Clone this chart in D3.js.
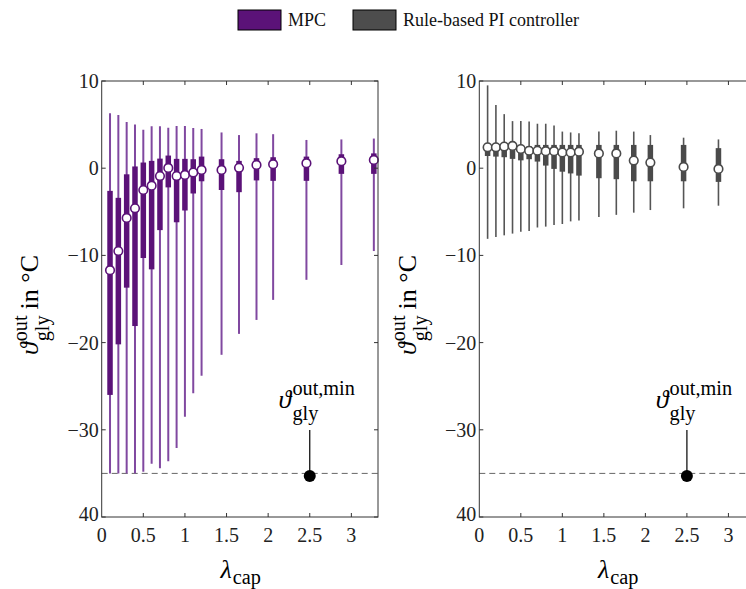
<!DOCTYPE html>
<meta charset="utf-8">
<style>
body { margin: 0; background: #fff; }
svg { font-family: "Liberation Serif", "DejaVu Serif", serif; }
.frame { fill: none; stroke: #333; stroke-width: 1px; }
.tick { stroke: #333; stroke-width: 1px; }
.ticklabel { font-size: 20px; fill: #222; }
.minline { stroke: #666; stroke-width: 1px; stroke-dasharray: 6,4; }
</style>
<body>
<script src="https://d3js.org/d3.v7.min.js"></script>
<script>
var width = 746, height = 589;

// lambda_cap values of the box plots
let lam = [0.1, 0.2, 0.3, 0.4, 0.5, 0.6, 0.7, 0.8, 0.9, 1.0, 1.1, 1.2, 1.44, 1.65, 1.86, 2.06, 2.46, 2.88, 3.27]

// MPC (left)
let mpcHi  = [6.3, 6.1, 5.3, 5.0, 4.4, 4.8, 4.8, 4.65, 4.85, 4.85, 4.6, 4.5, 4.1, 3.8, 4.0, 3.9, 3.24, 3.3, 3.4]
let mpcQ3  = [-2.6, -3.4, -0.7, 0.2, 0.65, 0.84, 1.1, 1.45, 1.07, 1.07, 1.03, 1.33, 1.03, 0.84, 1.15, 1.26, 1.33, 1.6, 1.7]
let mpcMed = [-11.7, -9.5, -5.7, -4.6, -2.5, -2.0, -0.9, 0.03, -0.9, -0.77, -0.5, -0.2, -0.2, 0.04, 0.38, 0.46, 0.57, 0.8, 0.95]
let mpcQ1  = [-26.0, -20.2, -13.7, -18.1, -10.3, -11.6, -7.1, -2.2, -6.2, -4.85, -2.9, -1.5, -2.5, -2.75, -1.4, -1.45, -1.45, -0.65, -0.65]
let mpcLo  = [-35, -35, -35, -35, -34.8, -33.9, -34.4, -33.6, -32.1, -28.5, -25.8, -23.8, -21.4, -19.0, -17.4, -15.1, -12.8, -11.1, -9.5]

// rule-based PI controller (right)
let piHi  = [9.5, 7.25, 6.2, 5.4, 5.4, 5.35, 5.1, 5.1, 4.9, 4.2, 4.1, 4.0, 4.2, 4.3, 4.2, 3.8, 3.5, 3.3]
let piQ3  = [2.7, 2.7, 2.75, 2.8, 2.6, 2.5, 2.67, 2.67, 2.67, 2.67, 2.67, 2.67, 2.67, 2.67, 2.67, 2.67, 2.67, 2.3]
let piMed = [2.4, 2.4, 2.48, 2.55, 2.2, 2.0, 2.0, 1.95, 1.95, 1.8, 1.8, 1.9, 1.7, 1.7, 0.87, 0.64, 0.15, -0.08]
let piQ1  = [1.4, 1.33, 1.26, 1.07, 0.9, 1.03, 0.76, 0.3, -0.08, -0.4, -0.6, -0.85, -1.15, -1.26, -1.5, -1.5, -1.5, -1.57]
let piLo  = [-8.1, -7.9, -7.7, -7.5, -7.3, -7.2, -6.8, -6.7, -6.5, -6.4, -6.1, -6.0, -5.6, -5.35, -5.1, -4.8, -4.6, -4.3]

let xTicks = [0.5, 1, 1.5, 2, 2.5, 3]
let xTickLabels = ["0", "0.5", "1", "1.5", "2", "2.5", "3"]
let xLabelVals = [0, 0.5, 1, 1.5, 2, 2.5, 3]
let yTicks = [10, 0, -10, -20, -30, -40]
let yTickLabels = ["10", "0", "\u221210", "\u221220", "\u221230", "40"]
let minTemp = -35
let minMarker = [2.5, -35.3]

var svg = d3.select("body").append("svg")
    .attr("width", width)
    .attr("height", height);

var y = d3.scaleLinear().domain([-40, 10]).range([517, 81]);

// stacked super/subscript math label, centred on 0
function mathText(g, base, sup, sub, rest, size, supUp, subDown) {
  var t = g.append("g");
  var b = t.append("text").attr("x", 0).attr("y", 0)
      .style("font-size", size + "px")
      .style("font-style", "italic")
      .text(base);
  var w = b.node().getComputedTextLength();
  var sw = 0, bw = 0;
  if (sup) {
    var s = t.append("text").attr("x", w + 1).attr("y", -supUp)
        .style("font-size", size * 0.78 + "px").text(sup);
    sw = s.node().getComputedTextLength();
  }
  if (sub) {
    var u = t.append("text").attr("x", w + 1).attr("y", subDown)
        .style("font-size", size * 0.78 + "px").text(sub);
    bw = u.node().getComputedTextLength();
  }
  var total = w + 1 + Math.max(sw, bw);
  if (rest) {
    var r = t.append("text").attr("x", total + 6).attr("y", 0)
        .style("font-size", size + "px").text(rest);
    total += 6 + r.node().getComputedTextLength();
  }
  t.attr("transform", "translate(" + (-total / 2) + ",0)");
  return t;
}

function panel(x0, x1, hi, q3, med, q1, lo, boxColor, whiskColor, whiskW, ylabX) {
  var x = d3.scaleLinear().domain([0, 3.32]).range([x0, x1]);
  var g = svg.append("g");

  // dashed minimum line
  g.append("line").attr("class", "minline")
      .attr("x1", x0).attr("x2", x1)
      .attr("y1", y(minTemp)).attr("y2", y(minTemp));

  var idx = d3.range(hi.length);
  // whiskers
  g.selectAll(".whisk").data(idx).enter().append("line")
      .attr("x1", i => x(lam[i])).attr("x2", i => x(lam[i]))
      .attr("y1", i => y(hi[i])).attr("y2", i => y(lo[i]))
      .attr("stroke", whiskColor).attr("stroke-width", whiskW);
  // boxes
  g.selectAll(".box").data(idx).enter().append("rect")
      .attr("x", i => x(lam[i]) - 2.75).attr("width", 5.5)
      .attr("y", i => y(q3[i])).attr("height", i => y(q1[i]) - y(q3[i]))
      .attr("fill", boxColor);
  // medians
  g.selectAll(".med").data(idx).enter().append("circle")
      .attr("cx", i => x(lam[i])).attr("cy", i => y(med[i])).attr("r", 4.3)
      .attr("fill", "#fff").attr("stroke", boxColor).attr("stroke-width", 1.6);

  // frame
  g.append("rect").attr("class", "frame")
      .attr("x", x0).attr("y", y(10)).attr("width", x1 - x0).attr("height", y(-40) - y(10));

  // ticks
  xTicks.forEach(function(v) {
    g.append("line").attr("class", "tick").attr("x1", x(v)).attr("x2", x(v)).attr("y1", y(-40)).attr("y2", y(-40) - 4);
    g.append("line").attr("class", "tick").attr("x1", x(v)).attr("x2", x(v)).attr("y1", y(10)).attr("y2", y(10) + 4);
  });
  yTicks.forEach(function(v) {
    g.append("line").attr("class", "tick").attr("x1", x0).attr("x2", x0 + 4).attr("y1", y(v)).attr("y2", y(v));
    g.append("line").attr("class", "tick").attr("x1", x1).attr("x2", x1 - 4).attr("y1", y(v)).attr("y2", y(v));
  });
  xLabelVals.forEach(function(v, i) {
    g.append("text").attr("class", "ticklabel")
        .attr("x", x(v)).attr("y", 542).attr("text-anchor", "middle").text(xTickLabels[i]);
  });
  yTicks.forEach(function(v, i) {
    g.append("text").attr("class", "ticklabel")
        .attr("x", x0 - 3).attr("y", y(v) + (v === -40 ? 4 : 7)).attr("text-anchor", "end").text(yTickLabels[i]);
  });

  // axis labels
  var xl = g.append("g").attr("transform", "translate(" + (x0 + 139) + ",578)");
  mathText(xl, "\u03bb", null, "cap", null, 26, 0, 6);
  var yl = g.append("g").attr("transform", "translate(" + ylabX + ",305) rotate(-90)");
  mathText(yl, "\u03d1", "out", "gly", "in \u00b0C", 26, 11, 11);

  // minimum temperature annotation
  g.append("line").attr("x1", x(minMarker[0])).attr("x2", x(minMarker[0]))
      .attr("y1", 430).attr("y2", y(minMarker[1])).attr("stroke", "#000").attr("stroke-width", 1.2);
  g.append("circle").attr("cx", x(minMarker[0])).attr("cy", y(minMarker[1])).attr("r", 6).attr("fill", "#000");
  var an = g.append("g").attr("transform", "translate(" + (x(minMarker[0]) + 7) + ",408)");
  mathText(an, "\u03d1", "out,min", "gly", null, 26, 13, 12);
}

panel(101.7, 378, mpcHi, mpcQ3, mpcMed, mpcQ1, mpcLo, "#5b1278", "#8048a0", 2, 38);
panel(479.3, 755, piHi, piQ3, piMed, piQ1, piLo, "#4a4a4a", "#555", 1.6, 416);

// legend
let legendNames = ["MPC", "Rule-based PI controller"]
let legendColors = ["#5b1278", "#4d4d4d"]
let legendX = [238, 353]
legendNames.forEach(function(name, i) {
  svg.append("rect").attr("x", legendX[i]).attr("y", 10).attr("width", 43).attr("height", 20)
      .attr("fill", legendColors[i]).attr("stroke", "#000").attr("stroke-width", 1);
  svg.append("text").attr("x", legendX[i] + 50).attr("y", 26)
      .style("font-size", "18px").attr("fill", "#111").text(name);
});
</script>
</body>
